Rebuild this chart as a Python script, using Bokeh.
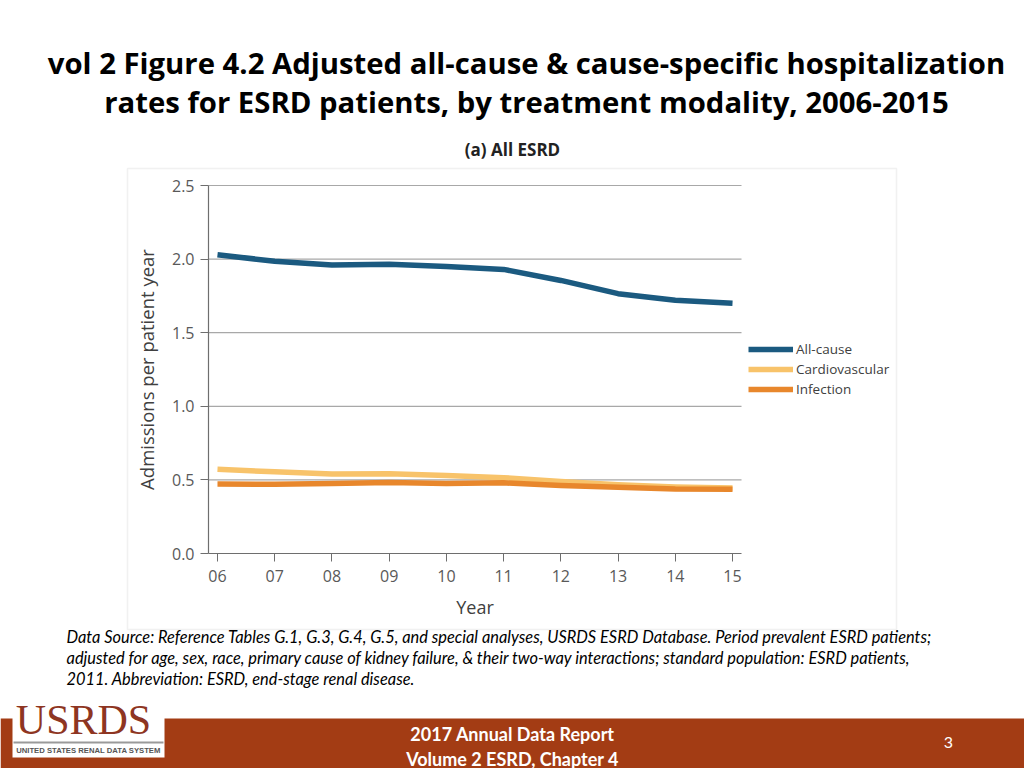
from bokeh.plotting import figure
from bokeh.models import (Range1d, FixedTicker, Label, BoxAnnotation, Legend,
                          LegendItem, ColumnDataSource)
from bokeh.embed import file_html
from bokeh.resources import INLINE

# ---------------- data ----------------
years = [2006, 2007, 2008, 2009, 2010, 2011, 2012, 2013, 2014, 2015]
year_labels = ["06", "07", "08", "09", "10", "11", "12", "13", "14", "15"]
all_cause = [2.03, 1.985, 1.96, 1.965, 1.95, 1.93, 1.855, 1.765, 1.72, 1.70]
cardiovascular = [0.572, 0.555, 0.54, 0.542, 0.53, 0.515, 0.49, 0.467, 0.452, 0.445]
infection = [0.472, 0.47, 0.476, 0.482, 0.475, 0.48, 0.462, 0.45, 0.438, 0.437]
series_names = ["All-cause", "Cardiovascular", "Infection"]
series_colors = ["#1B5A80", "#F8C36A", "#E8872C"]
y_ticks = [0.0, 0.5, 1.0, 1.5, 2.0, 2.5]
y_tick_labels = ["0.0", "0.5", "1.0", "1.5", "2.0", "2.5"]
grid_values = [0.5, 1.0, 1.5, 2.0, 2.5]

title_lines = ["vol 2 Figure 4.2 Adjusted all-cause & cause-specific hospitalization",
               "rates for ESRD patients, by treatment modality, 2006-2015"]
panel_title = "(a) All ESRD"
note_lines = [
    "Data Source: Reference Tables G.1, G.3, G.4, G.5, and special analyses, USRDS ESRD Database. Period prevalent ESRD patients;",
    "adjusted for age, sex, race, primary cause of kidney failure, & their two-way interactions; standard population: ESRD patients,",
    "2011. Abbreviation: ESRD, end-stage renal disease.",
]
footer_lines = ["2017 Annual Data Report", "Volume 2 ESRD, Chapter 4"]
page_number = "3"

# ---------------- layout ----------------
W, H = 1024, 768
PL, PR, PT, PB = 208, 741, 185, 553          # chart plot area in page pixels
XLO, XHI = 2005.843, 2015.157
YLO, YHI = 0.0, 2.5
sx = (PR - PL) / (XHI - XLO)
sy = (PB - PT) / (YHI - YLO)
x_range = Range1d(XLO - PL / sx, XHI + (W - PR) / sx)
y_range = Range1d(YLO - (H - PB) / sy, YHI + PT / sy)

CHART_FONT = "Open Sans"
SLIDE_FONT = "Open Sans"

p = figure(width=W, height=H, output_backend="svg", toolbar_location=None,
           x_range=x_range, y_range=y_range,
           min_border=0, min_border_left=0, min_border_right=0,
           min_border_top=0, min_border_bottom=0)
p.outline_line_color = None
p.background_fill_color = "white"
p.border_fill_color = "white"
p.xgrid.visible = False
p.ygrid.visible = False

# chart frame box
p.add_layout(BoxAnnotation(left=127, right=896, top=168, bottom=629,
                           left_units="canvas", right_units="canvas",
                           top_units="canvas", bottom_units="canvas",
                           fill_alpha=0, line_color="#cfcfcf", line_width=1.5,
                           level="underlay"))

# grid lines through the chart's scales
p.segment(x0=[XLO] * len(grid_values), x1=[XHI] * len(grid_values),
          y0=grid_values, y1=grid_values, line_color="#a8a8a8", line_width=1.2)

# axes fixed at the chart's origin
p.xaxis.fixed_location = YLO
p.yaxis.fixed_location = XLO
p.xaxis.bounds = (XLO, XHI)
p.yaxis.bounds = (YLO, YHI)
p.xaxis.ticker = FixedTicker(ticks=years)
p.xaxis.major_label_overrides = {y: l for y, l in zip(years, year_labels)}
p.yaxis.ticker = FixedTicker(ticks=y_ticks)
p.yaxis.major_label_overrides = {t: l for t, l in zip(y_ticks, y_tick_labels)}
for ax in (p.xaxis, p.yaxis):
    ax.minor_tick_line_color = None
    ax.major_tick_in = 0
    ax.major_tick_out = 8
    ax.major_label_text_font = CHART_FONT
    ax.major_label_text_font_size = "16px"
    ax.major_label_text_color = "#595959"
    ax.axis_label_text_font = CHART_FONT
    ax.axis_label_text_font_style = "normal"
    ax.axis_label_text_color = "#404040"
    ax.axis_line_color = "#6e6e6e"
    ax.major_tick_line_color = "#6e6e6e"
    ax.axis_line_width = 1.2
p.xaxis.major_label_standoff = 8
p.yaxis.major_label_standoff = 6
p.xaxis.axis_label = "Year"
p.xaxis.axis_label_text_font_size = "18px"
p.xaxis.axis_label_standoff = 10
p.yaxis.axis_label = "Admissions per patient year"
p.yaxis.axis_label_text_font_size = "18.5px"
p.yaxis.axis_label_standoff = 10

# lines
renderers = []
for vals, color in zip([all_cause, cardiovascular, infection], series_colors):
    src = ColumnDataSource(dict(x=years, y=vals))
    r = p.line("x", "y", source=src, line_color=color, line_width=5.5,
               line_join="round", line_cap="butt")
    renderers.append(r)

legend = Legend(items=[LegendItem(label=n, renderers=[r]) for n, r in zip(series_names, renderers)],
                location=(748, H - 399), padding=0, margin=0, spacing=0,
                glyph_width=45, glyph_height=20, label_height=20, label_standoff=3,
                label_text_font=CHART_FONT, label_text_font_size="13.5px",
                label_text_color="#404040", border_line_color=None,
                background_fill_alpha=0)
p.add_layout(legend, "center")

# title
for i, t in enumerate(title_lines):
    p.add_layout(Label(x=526, y=62 + i * 39, x_units="canvas", y_units="canvas", text=t,
                       text_align="center", text_baseline="alphabetic",
                       text_font=SLIDE_FONT, text_font_style="bold",
                       text_font_size="29.3px", text_color="#000000"))
p.add_layout(Label(x=512, y=149, x_units="canvas", y_units="canvas", text=panel_title,
                   text_align="center", text_baseline="middle",
                   text_font=CHART_FONT, text_font_style="bold",
                   text_font_size="17px", text_color="#222222"))

# note
for i, t in enumerate(note_lines):
    p.add_layout(Label(x=66, y=636 + i * 21, x_units="canvas", y_units="canvas", text=t,
                       text_align="left", text_baseline="middle",
                       text_font="Lato", text_font_style="italic",
                       text_font_size="16.4px", text_color="#000000"))

# footer band
p.add_layout(BoxAnnotation(left=0, right=W, top=718, bottom=H,
                           left_units="canvas", right_units="canvas",
                           top_units="canvas", bottom_units="canvas",
                           fill_color="#A33C14", fill_alpha=1, line_color=None,
                           level="overlay"))
# logo
p.add_layout(BoxAnnotation(left=12, right=164, top=702, bottom=757,
                           left_units="canvas", right_units="canvas",
                           top_units="canvas", bottom_units="canvas",
                           fill_color="white", fill_alpha=1, line_color=None,
                           level="overlay"))
p.add_layout(Label(x=83, y=719, x_units="canvas", y_units="canvas", text="USRDS",
                   text_align="center", text_baseline="middle",
                   text_font="Liberation Serif", text_font_size="42px",
                   text_color="#8E3522", level="overlay"))
p.add_layout(BoxAnnotation(left=13, right=163, top=741, bottom=743,
                           left_units="canvas", right_units="canvas",
                           top_units="canvas", bottom_units="canvas",
                           fill_color="#9a9a9a", fill_alpha=1, line_color=None,
                           level="overlay"))
p.add_layout(Label(x=88, y=750, x_units="canvas", y_units="canvas",
                   text="UNITED STATES RENAL DATA SYSTEM",
                   text_align="center", text_baseline="middle",
                   text_font="Liberation Sans", text_font_style="bold",
                   text_font_size="7.7px", text_color="#555555", level="overlay"))

for i, t in enumerate(footer_lines):
    p.add_layout(Label(x=512, y=733 + i * 25, x_units="canvas", y_units="canvas", text=t,
                       text_align="center", text_baseline="middle",
                       text_font="Lato", text_font_style="bold",
                       text_font_size="18px", text_color="white", level="overlay"))
p.add_layout(Label(x=948, y=742, x_units="canvas", y_units="canvas", text=page_number,
                   text_align="center", text_baseline="middle",
                   text_font="Lato", text_font_size="16px",
                   text_color="white", level="overlay"))

open("out.html", "w").write(file_html(p, INLINE))
